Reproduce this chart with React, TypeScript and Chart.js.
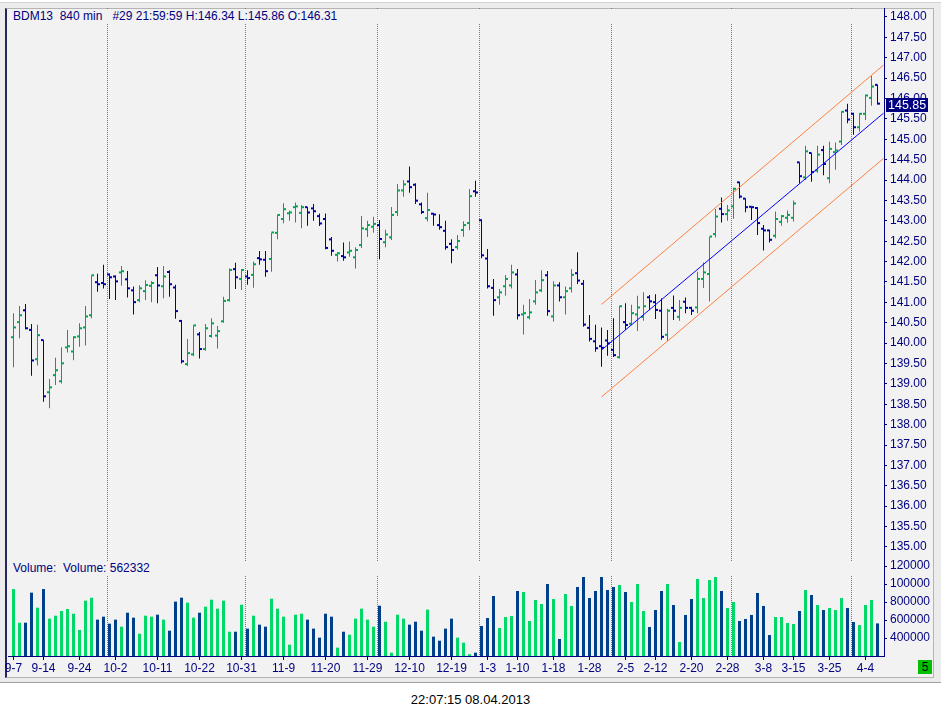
import React, { useEffect, useRef } from 'react';
import { Chart, registerables, ChartConfiguration, Plugin } from 'chart.js';

Chart.register(...registerables);

// OHLC per 840-min bar (bar 0 = 9-7, bar 144 = last)
const opens = [
  140.12, 140.49, 140.78, 140.30, 139.58, 140.05, 138.77, 139.19, 139.04, 139.87,
  139.77, 140.14, 140.36, 140.66, 141.47, 141.45, 141.66, 141.61, 141.71, 141.54,
  141.27, 141.03, 141.25, 141.38, 141.64, 141.37, 141.72, 141.34, 140.52, 139.46,
  139.70, 140.19, 139.83, 140.15, 140.16, 140.51, 141.03, 141.79, 141.55, 141.61,
  141.65, 142.06, 142.02, 142.04, 142.68, 143.02, 143.16, 143.31, 143.17, 143.31,
  143.28, 143.09, 143.02, 142.52, 142.14, 142.11, 142.20, 142.08, 142.38, 142.77,
  142.83, 142.87, 142.45, 142.57, 143.19, 143.72, 143.94, 143.86, 143.38, 143.04,
  143.15, 142.87, 142.73, 142.41, 142.33, 142.75, 142.92, 143.70, 142.99, 142.05,
  141.33, 141.10, 141.37, 141.39, 141.66, 140.68, 140.61, 141.00, 141.27, 141.64,
  140.63, 141.39, 141.10, 141.32, 141.69, 141.43, 140.35, 140.02, 139.90, 140.04,
  139.81, 139.63, 140.49, 140.45, 140.68, 140.62, 141.10, 140.98, 140.77, 140.18,
  140.84, 140.62, 140.99, 140.84, 140.85, 141.55, 141.67, 142.65, 143.27, 143.14,
  143.33, 143.92, 143.52, 143.32, 143.29, 142.78, 142.74, 142.61, 142.95, 143.05,
  143.05, 144.41, 144.04, 144.64, 144.21, 144.71, 144.02, 144.66, 144.92, 145.68,
  145.60, 145.27, 145.60, 145.99, 146.31,
];
const highs = [
  140.73, 140.91, 140.96, 140.47, 140.45, 140.07, 139.12, 139.64, 139.90, 140.32,
  140.17, 140.49, 140.91, 141.66, 141.70, 141.92, 141.71, 141.66, 141.89, 141.77,
  141.39, 141.42, 141.54, 141.52, 141.87, 141.89, 141.79, 141.43, 140.57, 140.10,
  140.44, 140.27, 140.47, 140.61, 140.42, 141.14, 141.83, 141.97, 141.81, 141.79,
  142.00, 142.26, 142.26, 142.71, 143.15, 143.43, 143.25, 143.45, 143.39, 143.33,
  143.41, 143.18, 143.18, 142.60, 142.23, 142.47, 142.49, 142.35, 143.12, 143.00,
  143.10, 143.02, 142.78, 143.34, 143.90, 144.00, 144.33, 143.92, 143.45, 143.69,
  143.19, 143.16, 143.00, 142.55, 142.65, 142.99, 143.78, 143.98, 143.04, 142.31,
  141.57, 141.33, 141.67, 141.92, 141.82, 140.94, 141.08, 141.55, 141.79, 141.77,
  141.52, 141.49, 141.39, 141.82, 142.23, 141.55, 140.69, 140.45, 140.38, 140.32,
  140.61, 140.91, 140.98, 140.94, 141.16, 141.25, 141.18, 141.20, 141.10, 140.84,
  141.17, 141.06, 141.12, 140.89, 141.75, 141.98, 142.60, 143.29, 143.57, 143.39,
  143.81, 143.96, 143.55, 143.35, 143.33, 142.90, 142.78, 143.23, 143.14, 143.25,
  143.50, 144.43, 144.84, 144.66, 144.84, 144.84, 144.94, 144.92, 145.68, 145.87,
  145.65, 145.64, 146.09, 146.55, 146.34,
];
const lows = [
  139.41, 140.12, 140.34, 139.20, 139.45, 138.56, 138.40, 138.97, 139.01, 139.77,
  139.58, 139.91, 139.94, 140.61, 141.26, 141.34, 141.08, 141.06, 141.41, 141.12,
  140.70, 141.00, 141.06, 141.00, 140.98, 141.10, 141.14, 140.60, 139.50, 139.44,
  139.68, 139.62, 139.81, 140.13, 139.87, 140.50, 141.02, 141.33, 141.30, 141.43,
  141.36, 141.92, 141.63, 141.75, 142.55, 142.94, 143.00, 142.96, 142.82, 142.88,
  143.00, 142.87, 142.30, 142.14, 142.00, 142.02, 142.12, 141.83, 142.33, 142.60,
  142.71, 142.06, 142.35, 142.53, 143.12, 143.59, 143.69, 143.41, 143.17, 142.98,
  142.88, 142.78, 142.29, 141.96, 142.29, 142.61, 142.77, 143.59, 142.08, 141.34,
  140.67, 140.94, 141.16, 141.34, 140.58, 140.21, 140.58, 140.94, 141.25, 140.67,
  140.53, 141.02, 140.70, 141.24, 141.45, 140.40, 140.04, 139.79, 139.42, 139.69,
  139.66, 139.62, 140.32, 140.44, 140.30, 140.55, 140.81, 140.59, 140.08, 140.05,
  140.57, 140.55, 140.73, 140.69, 140.73, 141.35, 141.02, 142.59, 142.96, 143.00,
  143.05, 143.55, 143.21, 143.02, 142.65, 142.27, 142.47, 142.57, 142.88, 142.95,
  142.98, 143.92, 144.00, 143.96, 144.18, 144.12, 143.92, 144.25, 144.86, 145.39,
  145.11, 145.19, 145.47, 145.82, 145.85,
];
const closes = [
  140.36, 140.66, 140.34, 139.55, 140.17, 138.67, 138.89, 139.31, 139.48, 139.90,
  140.12, 140.34, 140.63, 141.64, 141.42, 141.42, 141.59, 141.49, 141.74, 141.32,
  140.98, 141.32, 141.40, 141.45, 141.39, 141.61, 141.42, 140.76, 139.53, 139.73,
  140.41, 139.83, 140.34, 140.46, 140.27, 141.01, 141.77, 141.59, 141.77, 141.57,
  141.91, 142.03, 141.74, 142.69, 143.12, 143.26, 143.18, 143.33, 143.31, 143.18,
  143.21, 142.91, 142.31, 142.24, 142.18, 142.08, 142.24, 142.26, 142.79, 142.87,
  142.90, 142.53, 142.64, 143.12, 143.72, 143.87, 143.80, 143.47, 143.19, 143.24,
  143.13, 142.82, 142.33, 142.26, 142.48, 142.87, 143.58, 143.67, 142.13, 141.37,
  141.03, 141.22, 141.55, 141.71, 140.66, 140.71, 140.73, 141.22, 141.52, 140.76,
  141.39, 141.10, 141.25, 141.65, 141.51, 140.43, 140.08, 139.85, 139.86, 139.97,
  139.68, 140.88, 140.42, 140.71, 140.85, 140.88, 141.00, 140.79, 140.13, 140.77,
  140.77, 140.84, 140.84, 140.77, 141.55, 141.71, 142.59, 143.08, 143.14, 143.23,
  143.76, 143.57, 143.31, 143.31, 142.92, 142.74, 142.51, 143.02, 143.09, 143.12,
  143.40, 144.07, 144.68, 144.17, 144.60, 144.37, 144.74, 144.70, 145.65, 145.46,
  145.27, 145.60, 146.05, 146.27, 145.85,
];
const volumes = [
  94400, 57000, 57000, 90400, 73700, 94400, 61500, 64800, 70000, 72200,
  67000, 48900, 81500, 84800, 60400, 63700, 55900, 60400, 52600, 68100,
  62600, 44800, 64800, 63700, 65900, 60400, 48100, 80400, 84800, 79300,
  62600, 68100, 74800, 82600, 72600, 81500, 47000, 47000, 77000, 50400,
  64800, 54800, 52600, 83700, 72600, 63700, 32600, 65900, 67000, 60400,
  50400, 40400, 67000, 63700, 29300, 47000, 43700, 61500, 72600, 60400,
  52600, 75900, 58100, 23700, 65900, 61500, 54800, 58100, 48100, 71500,
  41500, 37000, 50400, 61500, 40400, 34800, 22000, 23700, 53300, 62200,
  86700, 51100, 63300, 64400, 92200, 91100, 58900, 82200, 77800, 100000,
  83300, 38900, 88900, 75600, 96700, 107800, 84400, 92200, 107800, 93300,
  96700, 98900, 91100, 80000, 100000, 70000, 52200, 71100, 92200, 100000,
  76700, 35600, 65600, 83300, 105600, 84400, 104400, 107800, 92200, 73300,
  80000, 58900, 61100, 65600, 90000, 75600, 43300, 63300, 63300, 56700,
  55600, 70000, 93300, 87800, 76700, 71100, 73300, 71100, 84400, 73300,
  57800, 54400, 76700, 82200, 56200,
];

const priceTicks = [
  135, 135.5, 136, 136.5, 137, 137.5, 138, 138.5, 139, 139.5, 140, 140.5, 141,
  141.5, 142, 142.5, 143, 143.5, 144, 144.5, 145, 145.5, 146, 146.5, 147, 147.5, 148,
];
const volumeTicks = [40000, 60000, 80000, 100000, 120000];
const volumeTickLabels = ['400000', '600000', '800000', '100000', '120000'];
const dateTickIndex = [0, 5, 11, 17, 24, 31, 38, 45, 52, 59, 66, 73, 79, 84, 90, 96, 102, 107, 113, 119, 125, 130, 136, 142];
const dateTickLabels = [
  '9-7', '9-14', '9-24', '10-2', '10-11', '10-22', '10-31', '11-9', '11-20', '11-29', '12-10', '12-19',
  '1-3', '1-10', '1-18', '1-28', '2-5', '2-12', '2-20', '2-28', '3-8', '3-15', '3-25', '4-4',
];
// month separators sit between bars
const monthBreaks = [15.67, 38.67, 60.67, 77.67, 99.67, 119.67, 139.67];

// trend channel (bar index / price at each end)
const channelX = [98, 145];
const channelMid = [139.83, 145.64];
const channelUpper = [140.95, 146.82];
const channelLower = [138.68, 144.53];

const FONT = "'Liberation Sans', Arial, sans-serif";
const NAVY = '#000080';
const UP = '#00a550';
const DOWN = '#0000a8';
const VOL_UP = '#00d867';
const VOL_DOWN = '#00408a';
const ORANGE = '#ff7f40';
const X_MIN = -0.9167;
const X_MAX = 145.0833;

const isUp = closes.map((c, i) => c >= opens[i]);
const priceColors = isUp.map(u => (u ? UP : DOWN));
const volumeColors = isUp.map(u => (u ? VOL_UP : VOL_DOWN));

const noPad = (axis: any) => {
  axis.paddingTop = 0;
  axis.paddingBottom = 0;
  axis.paddingLeft = 0;
  axis.paddingRight = 0;
};

const lastPriceTag: Plugin = {
  id: 'lastPriceTag',
  afterDraw(chart) {
    const { ctx, chartArea, scales } = chart;
    const last = closes[closes.length - 1];
    const y = Math.round(scales.y.getPixelForValue(last));
    ctx.save();
    ctx.fillStyle = NAVY;
    ctx.fillRect(chartArea.right + 2, y - 7, 42, 14);
    ctx.fillStyle = '#ffffff';
    ctx.font = `12.5px ${FONT}`;
    ctx.textBaseline = 'middle';
    ctx.fillText(last.toFixed(2), chartArea.right + 4, y + 0.5);
    ctx.restore();
  },
};

const channelLine = (values: number[], color: string) => ({
  type: 'line' as const,
  data: channelX.map((x, k) => ({ x, y: values[k] })),
  borderColor: color,
  borderWidth: 1,
  pointRadius: 0,
  tension: 0,
  order: 0,
});

const breakAxis = (position: 'top' | 'bottom') => ({
  type: 'linear' as const,
  position,
  min: X_MIN,
  max: X_MAX,
  offset: false,
  stacked: false,
  afterBuildTicks: (axis: any) => {
    axis.ticks = monthBreaks.map(v => ({ value: v }));
  },
  afterFit: (axis: any) => {
    axis.height = 0;
    noPad(axis);
  },
  ticks: { display: false },
  grid: { color: '#7a7a7a', lineWidth: 1, drawTicks: false, offset: false },
  border: { display: false, dash: [1, 1] },
});

const PriceVolumeChart: React.FC = () => {
  const priceRef = useRef<HTMLCanvasElement>(null);
  const volumeRef = useRef<HTMLCanvasElement>(null);

  useEffect(() => {
    if (!priceRef.current || !volumeRef.current) return;

    const priceConfig: ChartConfiguration = {
      type: 'bar',
      data: {
        datasets: [
          channelLine(channelUpper, ORANGE),
          channelLine(channelLower, ORANGE),
          channelLine(channelMid, '#0000ff'),
          {
            type: 'bar',
            data: opens.map((o, i) => ({ x: i, y: [o, o] })),
            backgroundColor: priceColors,
            barThickness: 2.5,
            minBarLength: 2,
            inflateAmount: 0,
            order: 1,
          },
          {
            type: 'bar',
            data: highs.map((h, i) => ({ x: i, y: [lows[i], h] })),
            backgroundColor: priceColors,
            barThickness: 1,
            maxBarThickness: 1,
            grouped: false,
            inflateAmount: 0,
            order: 1,
          },
          {
            type: 'bar',
            data: closes.map((c, i) => ({ x: i, y: [c, c] })),
            backgroundColor: priceColors,
            barThickness: 2.5,
            minBarLength: 2,
            inflateAmount: 0,
            order: 1,
          },
        ] as any,
      },
      options: {
        responsive: false,
        animation: false,
        events: [],
        layout: { padding: { left: 8, top: 8, right: 0, bottom: 0 }, autoPadding: false },
        plugins: { legend: { display: false }, tooltip: { enabled: false } },
        scales: {
          x: breakAxis('bottom'),
          y: {
            type: 'linear',
            position: 'right',
            min: 134.68,
            max: 148.22,
            stacked: false,
            afterBuildTicks: (axis: any) => {
              axis.ticks = priceTicks.map(v => ({ value: v }));
            },
            afterFit: (axis: any) => {
              axis.width = 57;
              noPad(axis);
            },
            ticks: {
              autoSkip: false,
              color: NAVY,
              padding: 3,
              font: { family: FONT, size: 12 },
              callback: (v: any) => Number(v).toFixed(2),
            },
            grid: { drawOnChartArea: false, drawTicks: true, tickLength: 3, color: NAVY },
            border: { display: true, color: NAVY, width: 1 },
          },
        },
      },
      plugins: [lastPriceTag],
    };

    const volumeConfig: ChartConfiguration = {
      type: 'bar',
      data: {
        datasets: [
          {
            data: volumes.map((v, i) => ({ x: i, y: v })),
            backgroundColor: volumeColors,
            barThickness: 3,
            inflateAmount: 0,
          },
        ] as any,
      },
      options: {
        responsive: false,
        animation: false,
        events: [],
        layout: { padding: { left: 8, top: 0, right: 0, bottom: 0 }, autoPadding: false },
        plugins: { legend: { display: false }, tooltip: { enabled: false } },
        scales: {
          x: {
            type: 'linear',
            position: 'bottom',
            min: X_MIN,
            max: X_MAX,
            offset: false,
            afterBuildTicks: (axis: any) => {
              axis.ticks = dateTickIndex.map(v => ({ value: v }));
            },
            afterFit: (axis: any) => {
              axis.height = 27;
              noPad(axis);
            },
            ticks: {
              autoSkip: false,
              maxRotation: 0,
              color: NAVY,
              padding: 1,
              font: { family: FONT, size: 12 },
              callback: (_v: any, idx: number) => dateTickLabels[idx],
            },
            grid: { drawOnChartArea: false, drawTicks: true, tickLength: 4, color: NAVY, offset: false },
            border: { display: true, color: NAVY, width: 1 },
          },
          breaks: breakAxis('top'),
          y: {
            type: 'linear',
            position: 'right',
            min: 20000,
            max: 126667,
            afterBuildTicks: (axis: any) => {
              axis.ticks = volumeTicks.map(v => ({ value: v }));
            },
            afterFit: (axis: any) => {
              axis.width = 57;
              noPad(axis);
            },
            ticks: {
              autoSkip: false,
              color: NAVY,
              padding: 3,
              font: { family: FONT, size: 12 },
              callback: (_v: any, idx: number) => volumeTickLabels[idx],
            },
            grid: { drawOnChartArea: false, drawTicks: true, tickLength: 3, color: NAVY },
            border: { display: true, color: NAVY, width: 1 },
          },
        },
      },
    };

    const priceChart = new Chart(priceRef.current, priceConfig);
    const volumeChart = new Chart(volumeRef.current, volumeConfig);

    return () => {
      priceChart.destroy();
      volumeChart.destroy();
    };
  }, []);

  const text: React.CSSProperties = {
    position: 'absolute',
    fontFamily: FONT,
    fontSize: 12,
    lineHeight: '14px',
    color: NAVY,
    whiteSpace: 'pre',
  };

  return (
    <div style={{ position: 'absolute', left: 0, top: 0, width: 941, height: 718, background: '#ffffff', overflow: 'hidden' }}>
      <div style={{ position: 'absolute', left: 0, top: 2, width: 941, height: 681, background: '#ececec', borderTop: '1px solid #d4d4d4', borderBottom: '1px solid #a0a0a0', boxSizing: 'border-box' }} />
      <div
        style={{
          position: 'absolute', left: 5, top: 8, width: 929, height: 670, background: '#f2f2f2',
          borderLeft: '2px solid #262660', borderTop: '1px solid #b4b4b4', borderRight: '1px solid #b4b4b4',
          borderBottom: '1px solid #b4b4b4', boxSizing: 'border-box',
        }}
      />
      <canvas ref={priceRef} width={941} height={560} style={{ position: 'absolute', left: 0, top: 0 }} />
      <canvas ref={volumeRef} width={941} height={123} style={{ position: 'absolute', left: 0, top: 560 }} />
      <div style={{ ...text, left: 8, top: 9, width: 875, height: 15, background: '#f2f2f2', paddingLeft: 5, boxSizing: 'border-box' }}>
        {'BDM13  840 min   #29 21:59:59 H:146.34 L:145.86 O:146.31'}
      </div>
      <div style={{ ...text, left: 8, top: 561, width: 875, height: 15, background: '#f2f2f2', paddingLeft: 5, boxSizing: 'border-box' }}>
        {'Volume:  Volume: 562332'}
      </div>
      <div style={{ ...text, left: 918, top: 660, width: 14, height: 14, background: '#00c000', color: '#000000', textAlign: 'center' }}>
        5
      </div>
      <div style={{ ...text, left: 0, top: 692, width: 941, fontSize: 13, lineHeight: '15px', color: '#000000', textAlign: 'center' }}>
        22:07:15 08.04.2013
      </div>
    </div>
  );
};

export default function App() {
  return <PriceVolumeChart />;
}
